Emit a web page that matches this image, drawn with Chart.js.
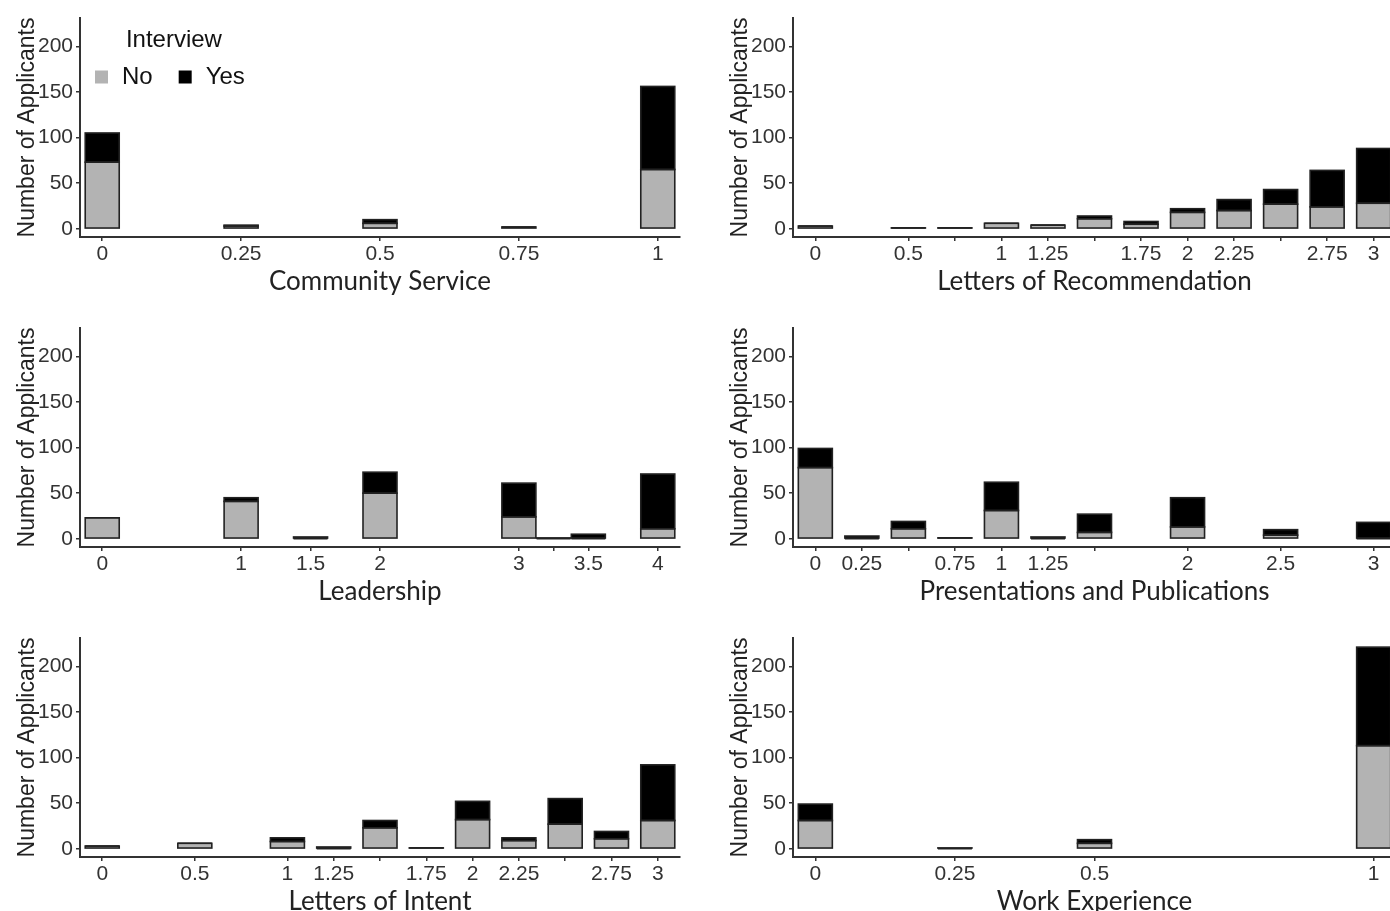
<!DOCTYPE html>
<html>
<head>
<meta charset="utf-8">
<script src="https://cdn.jsdelivr.net/npm/chart.js@4.4.0/dist/chart.umd.min.js"></script>
<style>
  html, body { margin: 0; padding: 0; background: #fff; overflow: hidden; width: 1390px; height: 911px; }
  .panel { position: absolute; }
</style>
</head>
<body>
<div class="panel" style="left:0;top:0"><canvas id="cs" width="700" height="300"></canvas></div>
<div class="panel" style="left:713px;top:0"><canvas id="lor" width="700" height="300"></canvas></div>
<div class="panel" style="left:0;top:310px"><canvas id="ld" width="700" height="300"></canvas></div>
<div class="panel" style="left:713px;top:310px"><canvas id="pp" width="700" height="300"></canvas></div>
<div class="panel" style="left:0;top:620px"><canvas id="li" width="700" height="300"></canvas></div>
<div class="panel" style="left:713px;top:620px"><canvas id="we" width="700" height="300"></canvas></div>
<script>
// y axis shared by all panels
const yTicks = [0, 50, 100, 150, 200];

// Community Service
const csX = [0, 0.25, 0.5, 0.75, 1];
const csLabels = ['0', '0.25', '0.5', '0.75', '1'];
const csNo = [73, 3, 6, 2, 65];
const csYes = [32, 1, 4, 0, 91];

// Letters of Recommendation
const lorX = [0, 0.5, 0.75, 1, 1.25, 1.5, 1.75, 2, 2.25, 2.5, 2.75, 3];
const lorLabels = ['0', '0.5', '', '1', '1.25', '', '1.75', '2', '2.25', '', '2.75', '3'];
const lorNo = [3, 1, 1, 6, 4, 11, 5, 18, 20, 27, 24, 28];
const lorYes = [0, 0, 0, 0, 0, 3, 3, 4, 12, 16, 40, 60];

// Leadership
const ldX = [0, 1, 1.5, 2, 3, 3.25, 3.5, 4];
const ldLabels = ['0', '1', '1.5', '2', '3', '', '3.5', '4'];
const ldNo = [23, 41, 0, 50, 24, 0, 0, 11];
const ldYes = [0, 4, 2, 23, 37, 1, 5, 60];

// Presentations and Publications
const ppX = [0, 0.25, 0.5, 0.75, 1, 1.25, 1.5, 2, 2.5, 3];
const ppLabels = ['0', '0.25', '', '0.75', '1', '1.25', '', '2', '2.5', '3'];
const ppNo = [78, 0, 11, 1, 31, 0, 7, 13, 4, 0];
const ppYes = [21, 3, 8, 0, 31, 2, 20, 32, 6, 18];

// Letters of Intent
const liX = [0, 0.5, 1, 1.25, 1.5, 1.75, 2, 2.25, 2.5, 2.75, 3];
const liLabels = ['0', '0.5', '1', '1.25', '', '1.75', '2', '2.25', '', '2.75', '3'];
const liNo = [3, 6, 8, 0, 23, 1, 32, 9, 27, 11, 31];
const liYes = [0, 0, 4, 2, 8, 0, 20, 3, 28, 8, 61];

// Work Experience
const weX = [0, 0.25, 0.5, 1];
const weLabels = ['0', '0.25', '0.5', '1'];
const weNo = [31, 0, 6, 113];
const weYes = [18, 1, 4, 108];

const tickFont = { family: '"Liberation Sans Narrow", "Arial Narrow", "Liberation Sans", sans-serif', size: 21 };
const axisColor = '#333';

// ggplot-style outline: stroke centred on each bar's edges, so tiny bars show as dark lines
const barOutline = {
  id: 'barOutline',
  afterDatasetsDraw(chart) {
    const ctx = chart.ctx;
    ctx.save();
    ctx.strokeStyle = '#222';
    ctx.lineWidth = 1.6;
    chart.data.datasets.forEach((ds, di) => {
      chart.getDatasetMeta(di).data.forEach(el => {
        const p = el.getProps(['x', 'y', 'base', 'width'], true);
        const top = Math.min(p.y, p.base);
        ctx.strokeRect(p.x - p.width / 2, top, p.width, Math.abs(p.base - p.y));
      });
    });
    ctx.restore();
  }
};

// legend drawn inside the first panel, top-left
const insideLegend = {
  id: 'insideLegend',
  afterDraw(chart) {
    const ctx = chart.ctx;
    const area = chart.chartArea;
    const sets = chart.data.datasets;
    ctx.save();
    ctx.font = '24px "Liberation Sans Narrow", "Arial Narrow", "Liberation Sans", sans-serif';
    ctx.textBaseline = 'middle';
    const box = 13;
    const startX = area.left + 15;
    const itemY = area.top + 59;
    let x = startX;
    sets.forEach(ds => {
      ctx.fillStyle = ds.backgroundColor;
      ctx.fillRect(x, itemY - box / 2, box, box);
      ctx.fillStyle = '#111';
      ctx.textAlign = 'left';
      ctx.fillText(ds.label, x + 27, itemY);
      x += 27 + ctx.measureText(ds.label).width + 26;
    });
    const endX = x - 26;
    ctx.textAlign = 'center';
    ctx.fillStyle = '#111';
    ctx.fillText('Interview', (startX + endX) / 2 + 4, area.top + 22);
    ctx.restore();
  }
};

function makePanel(id, xs, labels, no, yes, title, rightPad, withLegend) {
  const lo = xs[0], hi = xs[xs.length - 1];
  const pad = (hi - lo) * 0.04;
  return new Chart(document.getElementById(id), {
    type: 'bar',
    data: {
      datasets: [
        { label: 'No', data: xs.map((x, i) => ({ x, y: no[i] })), backgroundColor: '#b3b3b3', stack: 'a' },
        { label: 'Yes', data: xs.map((x, i) => ({ x, y: yes[i] })), backgroundColor: '#000000', stack: 'a' }
      ]
    },
    plugins: withLegend ? [barOutline, insideLegend] : [barOutline],
    options: {
      responsive: false,
      animation: false,
      layout: { padding: { top: 18, right: rightPad, bottom: 0, left: 0 } },
      datasets: {
        bar: { barThickness: 34, borderWidth: 0, inflateAmount: 0 }
      },
      plugins: { legend: { display: false }, tooltip: { enabled: false } },
      scales: {
        x: {
          type: 'linear',
          min: lo - pad,
          max: hi + pad,
          offset: false,
          afterBuildTicks: s => { s.ticks = xs.map(v => ({ value: v })); },
          afterFit: s => { s.height = 63; },
          ticks: {
            autoSkip: false, maxRotation: 0, padding: 1,
            font: tickFont, color: axisColor,
            callback: (v, i) => labels[i]
          },
          grid: { offset: false, drawOnChartArea: false, drawTicks: true, tickLength: 4, color: axisColor, lineWidth: 1.5 },
          border: { display: true, color: axisColor, width: 2 },
          title: {
            display: true, text: title, color: '#222',
            font: { family: 'Lato, "Open Sans", sans-serif', size: 26, lineHeight: 1.2 },
            padding: { top: 0, bottom: 3 }
          }
        },
        y: {
          min: -9,
          max: 231,
          afterBuildTicks: s => { s.ticks = yTicks.map(v => ({ value: v })); },
          afterFit: s => { s.width = 80; },
          ticks: { padding: 3, font: tickFont, color: axisColor },
          grid: { drawOnChartArea: false, drawTicks: true, tickLength: 4, color: axisColor, lineWidth: 1.5 },
          border: { display: true, color: axisColor, width: 2 },
          title: {
            display: true, text: 'Number of Applicants', color: '#222',
            font: { family: '"Liberation Sans", Arial, sans-serif', size: 23, lineHeight: 1.2 },
            padding: { top: 14, bottom: 0 }
          }
        }
      }
    }
  });
}

makePanel('cs', csX, csLabels, csNo, csYes, 'Community Service', 20, true);
makePanel('lor', lorX, lorLabels, lorNo, lorYes, 'Letters of Recommendation', 17, false);
makePanel('ld', ldX, ldLabels, ldNo, ldYes, 'Leadership', 20, false);
makePanel('pp', ppX, ppLabels, ppNo, ppYes, 'Presentations and Publications', 17, false);
makePanel('li', liX, liLabels, liNo, liYes, 'Letters of Intent', 20, false);
makePanel('we', weX, weLabels, weNo, weYes, 'Work Experience', 17, false);
</script>
</body>
</html>
